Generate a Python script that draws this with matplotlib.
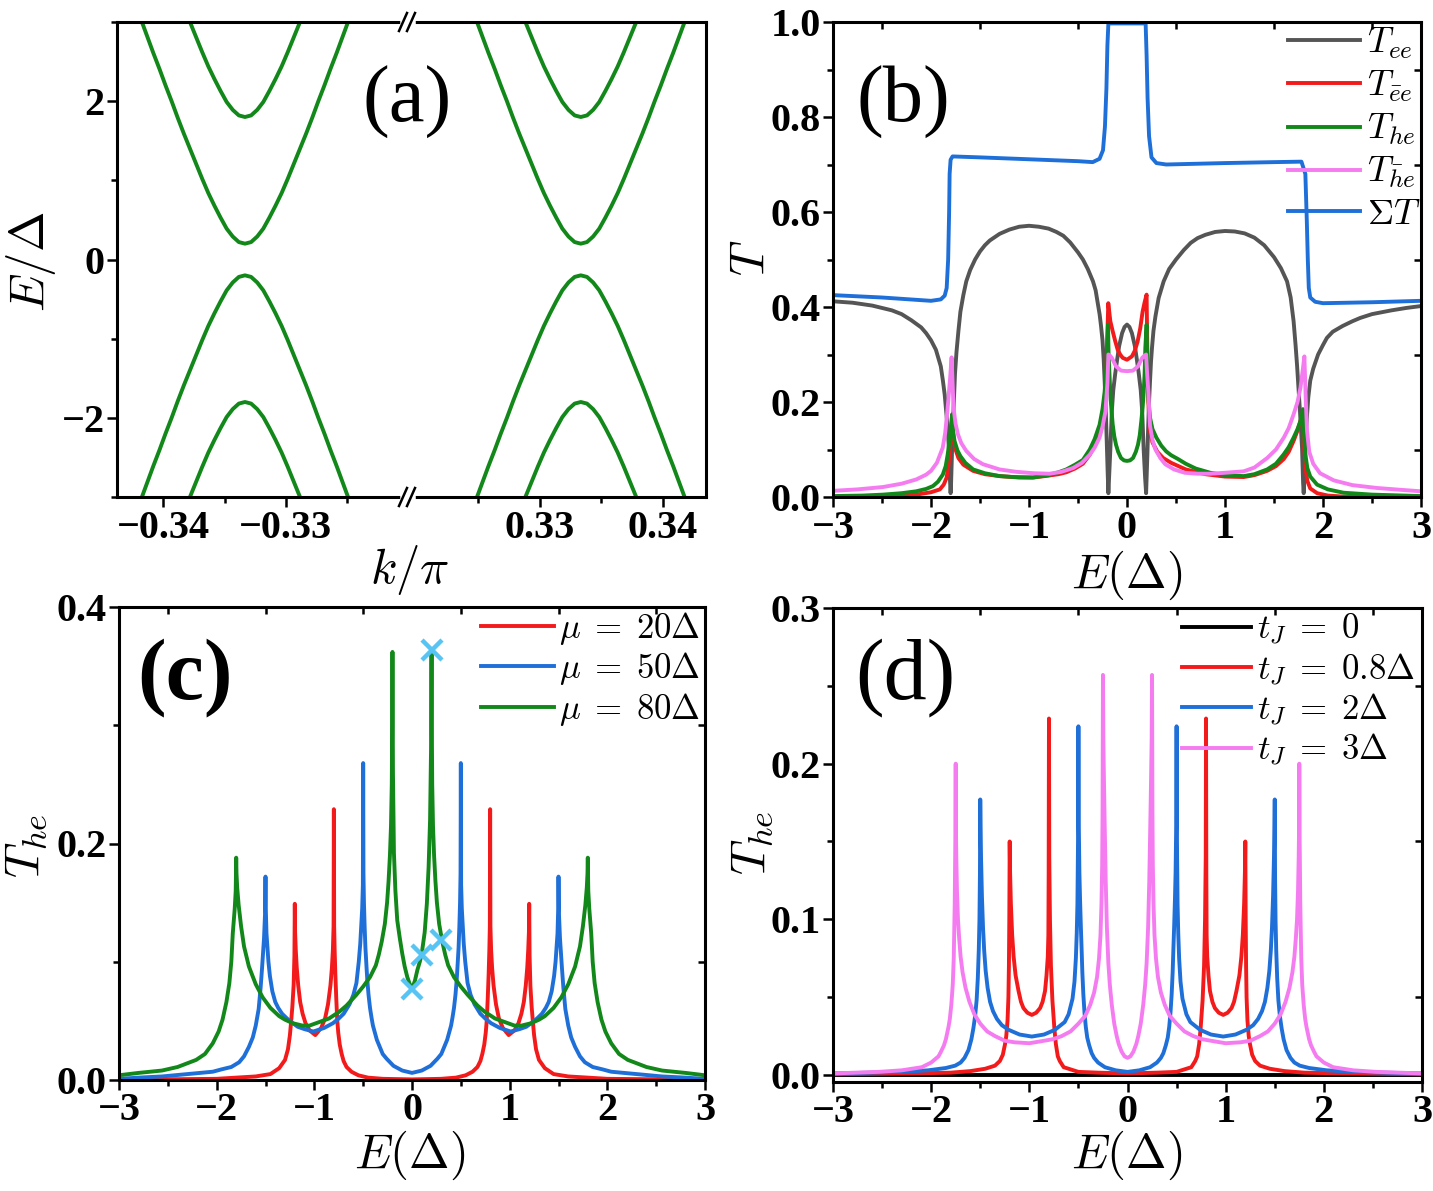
import numpy as np
import matplotlib
matplotlib.use("Agg")
import matplotlib.pyplot as plt
from matplotlib.lines import Line2D
from matplotlib.ticker import FixedLocator, FuncFormatter

plt.rcParams["font.family"] = "Liberation Serif"
plt.rcParams["font.weight"] = "bold"
plt.rcParams["mathtext.fontset"] = "cm"

# ---------------- panel (a): bands near k = -1/3 and k = +1/3 ----------------
valley_k = [-1 / 3, 1 / 3]
dk_inner = [0.0, 0.0005, 0.001, 0.0015, 0.002, 0.0025, 0.003, 0.0035, 0.004, 0.0045,
            0.005, 0.0055, 0.006, 0.0065, 0.007, 0.0075, 0.008, 0.0085, 0.009]
E_inner = [0.20, 0.22, 0.29, 0.39, 0.53, 0.68, 0.84, 1.02, 1.21, 1.40,
           1.59, 1.79, 2.00, 2.20, 2.41, 2.61, 2.82, 3.03, 3.24]
dk_outer = [0.0, 0.0005, 0.001, 0.0015, 0.002, 0.0025, 0.003, 0.0035, 0.004, 0.0045, 0.005]
E_outer = [1.80, 1.82, 1.89, 1.99, 2.13, 2.28, 2.44, 2.62, 2.81, 3.00, 3.19]

# ---------------- panel (b): transmission coefficients ----------------
E_sum = [-3.0, -2.5, -2.0, -1.9, -1.86, -1.84, -1.825, -1.815, -1.81, -1.8, -1.78, -1.5, -1.0,
         -0.5, -0.35, -0.28, -0.245, -0.225, -0.21, -0.2, -0.19, 0.19, 0.2, 0.21, 0.225, 0.25,
         0.3, 0.4, 1.0, 1.5, 1.78, 1.82, 1.835, 1.845, 1.855, 1.87, 1.92, 2.0, 2.5, 3.0]
T_sum = [0.425, 0.42, 0.413, 0.416, 0.424, 0.44, 0.5, 0.6, 0.68, 0.71, 0.717, 0.715, 0.711,
         0.707, 0.705, 0.712, 0.73, 0.78, 0.86, 0.95, 0.997, 0.997, 0.93, 0.84, 0.76, 0.715,
         0.703, 0.7, 0.703, 0.705, 0.706, 0.68, 0.58, 0.5, 0.44, 0.42, 0.411, 0.408, 0.41, 0.413]

E_ee = [-3.0, -2.8, -2.6, -2.4, -2.3, -2.2, -2.1, -2.05, -2.0, -1.95, -1.9, -1.878, -1.86,
        -1.845, -1.827, -1.815, -1.806, -1.8, -1.795, -1.785, -1.77, -1.755, -1.74, -1.72,
        -1.7, -1.67, -1.64, -1.6, -1.55, -1.5, -1.45, -1.4, -1.3, -1.2, -1.1, -1.0, -0.9,
        -0.8, -0.72, -0.65, -0.58, -0.5, -0.45, -0.4, -0.347, -0.32, -0.3, -0.279, -0.265,
        -0.25, -0.238, -0.228, -0.218, -0.21, -0.197, -0.19, -0.183, -0.17, -0.155, -0.14,
        -0.12, -0.1, -0.08, -0.05, -0.025, 0.0, 0.025, 0.05, 0.08, 0.1, 0.12, 0.14, 0.155,
        0.17, 0.185, 0.195, 0.2, 0.208, 0.215, 0.225, 0.235, 0.245, 0.255, 0.27, 0.29, 0.323,
        0.374, 0.43, 0.5, 0.58, 0.65, 0.72, 0.8, 0.9, 1.0, 1.1, 1.2, 1.3, 1.4, 1.5, 1.57,
        1.633, 1.67, 1.7, 1.72, 1.735, 1.765, 1.786, 1.797, 1.803, 1.81, 1.82, 1.83, 1.85,
        1.87, 1.9, 1.95, 2.0, 2.04, 2.1, 2.2, 2.3, 2.38, 2.5, 2.7, 2.85, 3.0]
T_ee = [0.412, 0.409, 0.403, 0.393, 0.385, 0.372, 0.357, 0.345, 0.33, 0.31, 0.275, 0.244,
        0.215, 0.18, 0.139, 0.09, 0.035, 0.008, 0.03, 0.1, 0.185, 0.26, 0.305, 0.35,
        0.39, 0.425, 0.454, 0.478, 0.5, 0.517, 0.53, 0.54, 0.554, 0.563, 0.569, 0.571, 0.569,
        0.565, 0.558, 0.55, 0.536, 0.515, 0.5, 0.48, 0.454, 0.435, 0.41, 0.384, 0.36,
        0.33, 0.29, 0.244, 0.19, 0.14, 0.05, 0.008, 0.04, 0.1, 0.18, 0.225,
        0.26, 0.29, 0.318, 0.345, 0.358, 0.363, 0.358, 0.345, 0.318, 0.29, 0.26, 0.225, 0.18,
        0.1, 0.04, 0.008, 0.04, 0.09, 0.14, 0.2, 0.244, 0.285, 0.314, 0.35, 0.38, 0.419,
        0.454, 0.48, 0.5, 0.52, 0.535, 0.545, 0.552, 0.558, 0.56, 0.559, 0.555, 0.546, 0.53,
        0.505, 0.482, 0.454, 0.42, 0.37, 0.32, 0.278, 0.18, 0.104, 0.03, 0.008, 0.04, 0.1,
        0.15, 0.21, 0.245, 0.27, 0.3, 0.32, 0.335, 0.348, 0.36, 0.37, 0.377, 0.385, 0.393,
        0.398, 0.402]

E_eebar = [-3.0, -2.5, -2.3, -2.15, -2.0, -1.91, -1.87, -1.84, -1.82, -1.8, -1.785, -1.77,
           -1.75, -1.72, -1.67, -1.57, -1.45, -1.3, -1.1, -0.96, -0.8, -0.7, -0.62, -0.53,
           -0.45, -0.38, -0.33, -0.28, -0.25, -0.228, -0.215, -0.204, -0.191, -0.17, -0.146,
           -0.12, -0.095, -0.07, -0.044, 0.0, 0.05, 0.08, 0.108, 0.135, 0.159, 0.18, 0.2,
           0.208, 0.218, 0.235, 0.26, 0.31, 0.37, 0.45, 0.6, 0.8, 1.0, 1.19, 1.3, 1.43, 1.52,
           1.6, 1.65, 1.7, 1.74, 1.77, 1.795, 1.81, 1.825, 1.84, 1.87, 1.94, 2.05, 2.2, 3.0]
T_eebar = [0.0, 0.001, 0.003, 0.005, 0.01, 0.016, 0.026, 0.041, 0.07, 0.12, 0.165, 0.12,
           0.1, 0.082, 0.068, 0.055, 0.048, 0.044, 0.041, 0.041, 0.045, 0.048, 0.052, 0.06,
           0.07, 0.089, 0.108, 0.132, 0.158, 0.188, 0.24, 0.314, 0.408, 0.37, 0.349,
           0.328, 0.31, 0.3, 0.293, 0.289, 0.296, 0.308, 0.327, 0.355, 0.39, 0.41, 0.426,
           0.3, 0.2, 0.139, 0.115, 0.095, 0.082, 0.072, 0.058, 0.048, 0.043, 0.042, 0.046,
           0.055, 0.065, 0.08, 0.095, 0.118, 0.14, 0.16, 0.174, 0.1, 0.055, 0.034, 0.018,
           0.008, 0.003, 0.001, 0.0]

E_he = [-3.0, -2.7, -2.49, -2.3, -2.15, -2.05, -1.98, -1.93, -1.88, -1.85, -1.83, -1.81,
        -1.8, -1.785, -1.775, -1.76, -1.73, -1.7, -1.65, -1.57, -1.45, -1.3, -1.15, -0.96,
        -0.8, -0.7, -0.62, -0.53, -0.45, -0.38, -0.33, -0.28, -0.25, -0.228, -0.215, -0.205,
        -0.194, -0.188, -0.175, -0.165, -0.146, -0.13, -0.112, -0.09, -0.061, -0.03, 0.0,
        0.03, 0.061, 0.09, 0.112, 0.13, 0.146, 0.16, 0.17, 0.18, 0.187, 0.2, 0.207, 0.215,
        0.225, 0.235, 0.26, 0.3, 0.35, 0.4, 0.45, 0.52, 0.6, 0.7, 0.85, 1.0, 1.19, 1.3,
        1.43, 1.52, 1.6, 1.65, 1.7, 1.74, 1.77, 1.796, 1.81, 1.82, 1.84, 1.87, 1.94, 2.05,
        2.21, 2.5, 3.0]
T_he = [0.002, 0.003, 0.005, 0.008, 0.012, 0.017, 0.023, 0.032, 0.047, 0.065, 0.089, 0.12,
        0.14, 0.174, 0.14, 0.118, 0.098, 0.086, 0.072, 0.058, 0.05, 0.044, 0.042, 0.041,
        0.046, 0.052, 0.058, 0.068, 0.078, 0.1, 0.122, 0.152, 0.185, 0.222, 0.26, 0.3,
        0.363, 0.3, 0.24, 0.2, 0.153, 0.128, 0.11, 0.095, 0.082, 0.077, 0.076,
        0.077, 0.082, 0.095, 0.11, 0.13, 0.16, 0.19, 0.22, 0.26, 0.314, 0.363, 0.28, 0.22,
        0.19, 0.167, 0.143, 0.125, 0.108, 0.096, 0.088, 0.08, 0.07, 0.06, 0.051, 0.046,
        0.044, 0.048, 0.058, 0.07, 0.09, 0.105, 0.125, 0.143, 0.16, 0.185, 0.12, 0.09,
        0.061, 0.043, 0.026, 0.016, 0.009, 0.005, 0.002]

E_hbar = [-3.0, -2.75, -2.49, -2.3, -2.15, -2.05, -2.0, -1.94, -1.88, -1.855, -1.83, -1.805,
          -1.79, -1.78, -1.77, -1.75, -1.725, -1.69, -1.64, -1.56, -1.47, -1.3, -1.13, -0.95,
          -0.79, -0.67, -0.55, -0.46, -0.38, -0.33, -0.28, -0.25, -0.22, -0.2, -0.19,
          -0.175, -0.155, -0.112, -0.06, 0.0, 0.06, 0.112, 0.155, 0.18, 0.195, 0.205, 0.218,
          0.235, 0.26, 0.29, 0.34, 0.39, 0.48, 0.59, 0.72, 0.85, 1.0, 1.19, 1.3, 1.43, 1.52,
          1.6, 1.65, 1.7, 1.74, 1.77, 1.795, 1.81, 1.825, 1.837, 1.86, 1.9, 1.97, 2.11, 2.3,
          2.55, 2.8, 3.0]
T_hbar = [0.013, 0.016, 0.021, 0.028, 0.037, 0.047, 0.055, 0.072, 0.104, 0.135, 0.188, 0.25,
          0.294, 0.24, 0.188, 0.155, 0.132, 0.113, 0.097, 0.08, 0.069, 0.058, 0.053, 0.05,
          0.049, 0.053, 0.061, 0.072, 0.089, 0.104, 0.125, 0.148, 0.18, 0.24, 0.3,
          0.298, 0.293, 0.275, 0.266, 0.265, 0.266, 0.275, 0.293, 0.298, 0.3, 0.26, 0.222,
          0.15, 0.12, 0.1, 0.082, 0.069, 0.058, 0.051, 0.049, 0.049, 0.051, 0.054, 0.062,
          0.082, 0.1, 0.125, 0.145, 0.174, 0.2, 0.23, 0.27, 0.296, 0.2, 0.139, 0.095, 0.07,
          0.05, 0.035, 0.025, 0.019, 0.015, 0.012]

# ---------------- panel (c): T_he for three mu ----------------
# red and blue are read for E >= 0 (curves are symmetric)
E_mu20 = [0.0, 0.3, 0.45, 0.55, 0.62, 0.67, 0.7, 0.72, 0.74, 0.755, 0.765, 0.775, 0.785,
          0.792, 0.797, 0.8, 0.803, 0.81, 0.82, 0.835, 0.86, 0.89, 0.93, 0.99, 1.05, 1.09,
          1.12, 1.145, 1.165, 1.18, 1.19, 1.197, 1.2, 1.204, 1.212, 1.225, 1.237, 1.25, 1.27,
          1.3, 1.36, 1.45, 1.6, 2.0, 3.0]
T_mu20 = [0.0005, 0.001, 0.002, 0.004, 0.007, 0.011, 0.016, 0.022, 0.03, 0.04, 0.05, 0.068,
          0.09, 0.11, 0.13, 0.229, 0.13, 0.11, 0.095, 0.08, 0.064, 0.052, 0.044, 0.038, 0.042,
          0.048, 0.056, 0.066, 0.08, 0.095, 0.11, 0.125, 0.149, 0.105, 0.08, 0.062, 0.05,
          0.038, 0.026, 0.017, 0.01, 0.005, 0.003, 0.001, 0.0002]
E_mu50 = [0.0, 0.1, 0.19, 0.26, 0.3, 0.33, 0.36, 0.38, 0.4, 0.415, 0.43, 0.445, 0.458,
          0.466, 0.477, 0.485, 0.492, 0.497, 0.5, 0.503, 0.51, 0.52, 0.53, 0.545, 0.569, 0.6,
          0.64, 0.7, 0.75, 0.81, 0.9, 1.01, 1.1, 1.17, 1.22, 1.28, 1.33, 1.37, 1.4, 1.43,
          1.455, 1.47, 1.48, 1.49, 1.497, 1.5, 1.505, 1.515, 1.527, 1.535, 1.55, 1.57, 1.6,
          1.63, 1.67, 1.72, 1.77, 1.85, 1.95, 2.04, 2.3, 2.56, 2.8, 3.0]
T_mu50 = [0.006, 0.008, 0.012, 0.018, 0.022, 0.028, 0.034, 0.04, 0.046, 0.053, 0.061, 0.072,
          0.085, 0.096, 0.112, 0.13, 0.15, 0.175, 0.268, 0.165, 0.145, 0.13, 0.115, 0.1,
          0.082, 0.072, 0.064, 0.056, 0.052, 0.048, 0.044, 0.041, 0.043, 0.045, 0.048, 0.052,
          0.056, 0.061, 0.066, 0.075, 0.088, 0.1, 0.112, 0.124, 0.145, 0.172, 0.14, 0.12,
          0.105, 0.095, 0.078, 0.06, 0.046, 0.036, 0.028, 0.02, 0.015, 0.011, 0.009, 0.007,
          0.005, 0.003, 0.002, 0.001]
# green: outer part read for E >= 0.2, inner part between the two central peaks
E_mu80_side = [0.2, 0.203, 0.207, 0.215, 0.226, 0.24, 0.255, 0.278, 0.31, 0.34, 0.37, 0.43,
               0.5, 0.57, 0.67, 0.74, 0.85, 0.95, 1.05, 1.12, 1.22, 1.3, 1.36, 1.45, 1.53,
               1.6, 1.67, 1.72, 1.75, 1.775, 1.79, 1.797, 1.8, 1.805, 1.815, 1.835, 1.85,
               1.87, 1.9, 1.94, 1.98, 2.04, 2.12, 2.21, 2.4, 2.56, 2.8, 3.0]
T_mu80_side = [0.362, 0.3, 0.25, 0.215, 0.19, 0.168, 0.15, 0.132, 0.117, 0.106, 0.097,
               0.087, 0.079, 0.072, 0.063, 0.058, 0.052, 0.049, 0.046, 0.046, 0.048, 0.051,
               0.054, 0.061, 0.07, 0.081, 0.096, 0.113, 0.13, 0.148, 0.163, 0.175, 0.188,
               0.16, 0.145, 0.124, 0.1, 0.082, 0.066, 0.051, 0.041, 0.031, 0.022, 0.017,
               0.011, 0.008, 0.006, 0.004]
E_mu80_mid = [-0.2, -0.195, -0.185, -0.17, -0.151, -0.125, -0.1, -0.075, -0.048, -0.014,
              0.0, 0.03, 0.055, 0.08, 0.1, 0.13, 0.152, 0.17, 0.185, 0.195, 0.2]
T_mu80_mid = [0.363, 0.26, 0.192, 0.16, 0.135, 0.12, 0.107, 0.096, 0.087, 0.079,
              0.077, 0.084, 0.093, 0.1, 0.107, 0.125, 0.149, 0.18, 0.22, 0.28, 0.362]
E_cross = [0.0, 0.1, 0.3, 0.2]
T_cross = [0.077, 0.106, 0.118, 0.364]

# ---------------- panel (d): T_he for several t_J (E >= 0, symmetric) ----------------
E_tj0 = [-3.0, 3.0]
T_tj0 = [0.0, 0.0]
E_tj08 = [0.0, 0.3, 0.5, 0.6, 0.65, 0.69, 0.71, 0.73, 0.745, 0.765, 0.78, 0.79, 0.797, 0.8,
          0.803, 0.806, 0.812, 0.825, 0.84, 0.865, 0.89, 0.93, 0.975, 1.02, 1.06, 1.085,
          1.11, 1.14, 1.16, 1.175, 1.188, 1.196, 1.2, 1.204, 1.208, 1.213, 1.222, 1.235,
          1.247, 1.27, 1.3, 1.35, 1.45, 1.6, 1.8, 2.2, 3.0]
T_tj08 = [0.001, 0.0015, 0.002, 0.004, 0.005, 0.009, 0.012, 0.02, 0.03, 0.048, 0.07, 0.1,
          0.14, 0.229, 0.13, 0.09, 0.076, 0.064, 0.054, 0.047, 0.043, 0.04, 0.0386, 0.04,
          0.043, 0.047, 0.054, 0.064, 0.076, 0.09, 0.11, 0.13, 0.15, 0.1, 0.07, 0.05, 0.035,
          0.025, 0.02, 0.013, 0.009, 0.006, 0.004, 0.0025, 0.0015, 0.001, 0.0005]
E_tj2 = [0.0, 0.12, 0.23, 0.3, 0.34, 0.365, 0.39, 0.41, 0.425, 0.438, 0.45, 0.46, 0.467,
         0.475, 0.483, 0.49, 0.496, 0.5, 0.504, 0.51, 0.517, 0.526, 0.54, 0.56, 0.6, 0.64,
         0.7, 0.74, 0.85, 0.975, 1.1, 1.21, 1.28, 1.33, 1.37, 1.4, 1.425, 1.445, 1.46, 1.472,
         1.483, 1.492, 1.497, 1.5, 1.503, 1.508, 1.515, 1.525, 1.537, 1.552, 1.57, 1.59,
         1.62, 1.66, 1.7, 1.755, 1.85, 2.03, 2.3, 2.6, 3.0]
T_tj2 = [0.002, 0.003, 0.005, 0.008, 0.011, 0.014, 0.019, 0.024, 0.031, 0.04, 0.052, 0.066,
         0.08, 0.095, 0.112, 0.13, 0.16, 0.224, 0.15, 0.11, 0.091, 0.075, 0.06, 0.049,
         0.039, 0.034, 0.031, 0.029, 0.026, 0.0247, 0.026, 0.029, 0.032, 0.036, 0.041, 0.047,
         0.056, 0.067, 0.08, 0.095, 0.115, 0.14, 0.16, 0.177, 0.13, 0.1, 0.08, 0.062, 0.048,
         0.038, 0.03, 0.023, 0.016, 0.011, 0.008, 0.006, 0.0045, 0.003, 0.002, 0.0015, 0.001]
E_tj3 = [0.0, 0.03, 0.06, 0.09, 0.11, 0.135, 0.16, 0.18, 0.195, 0.21, 0.222, 0.232, 0.24,
         0.246, 0.25, 0.254, 0.258, 0.265, 0.275, 0.29, 0.31, 0.34, 0.38, 0.43, 0.5, 0.58,
         0.67, 0.76, 0.85, 1.0, 1.15, 1.25, 1.35, 1.43, 1.5, 1.56, 1.61, 1.65, 1.68, 1.7,
         1.715, 1.727, 1.737, 1.744, 1.748, 1.75, 1.754, 1.76, 1.77, 1.78, 1.795, 1.81,
         1.823, 1.85, 1.87, 1.9, 1.925, 2.0, 2.095, 2.3, 2.535, 3.0]
T_tj3 = [0.011, 0.012, 0.015, 0.02, 0.025, 0.033, 0.045, 0.058, 0.072, 0.095, 0.125, 0.16,
         0.19, 0.215, 0.257, 0.17, 0.135, 0.11, 0.09, 0.075, 0.063, 0.053, 0.045, 0.038,
         0.033, 0.028, 0.025, 0.023, 0.022, 0.0204, 0.021, 0.022, 0.025, 0.028, 0.033, 0.039,
         0.047, 0.056, 0.066, 0.076, 0.088, 0.1, 0.118, 0.14, 0.16, 0.2, 0.15, 0.11, 0.075,
         0.058, 0.045, 0.036, 0.031, 0.023, 0.019, 0.015, 0.012, 0.008, 0.005, 0.003, 0.002,
         0.001]

GREEN = "#13881a"
RED = "#f21a1a"
BLUE = "#1f6fd8"
GRAY = "#555555"
PINK = "#f47cf0"
CROSS = "#58c4f4"
LW = 2.8
TICK_FS = 29
LAB_FS = 35

W, H = 1433, 1191
fig = plt.figure(figsize=(W / 100, H / 100), dpi=100)


def rect(l, t, r, b):
    return [l / W, 1 - b / H, (r - l) / W, (b - t) / H]


def text_px(x, y, s, size, rot=0, **kw):
    fig.text(x / W, 1 - y / H, s, fontsize=size, rotation=rot, ha="center", va="center", **kw)


def mirror(e, t):
    e = np.asarray(e)
    t = np.asarray(t)
    return np.concatenate([-e[:0:-1], e]), np.concatenate([t[:0:-1], t])


def fmt(decimals):
    return FuncFormatter(lambda v, p: f"{v:.{decimals}f}".replace("-", "\u2212"))


def base_style(ax):
    for s in ax.spines.values():
        s.set_linewidth(2.2)
    ax.tick_params(which="major", direction="out", length=7, width=1.8,
                   labelsize=TICK_FS, pad=2)
    ax.tick_params(which="minor", direction="out", length=4, width=1.8)


def set_ticks(ax, xmaj, xmin, ymaj, ymin, xdec, ydec):
    ax.xaxis.set_major_locator(FixedLocator(xmaj))
    ax.xaxis.set_minor_locator(FixedLocator(xmin))
    ax.yaxis.set_major_locator(FixedLocator(ymaj))
    ax.yaxis.set_minor_locator(FixedLocator(ymin))
    ax.xaxis.set_major_formatter(fmt(xdec))
    ax.yaxis.set_major_formatter(fmt(ydec))


def mirror_minor(ax, xmin, ymin):
    top = ax.secondary_xaxis("top")
    top.xaxis.set_major_locator(FixedLocator([]))
    top.xaxis.set_minor_locator(FixedLocator(xmin))
    top.tick_params(which="minor", direction="in", length=5, width=1.8)
    right = ax.secondary_yaxis("right")
    right.yaxis.set_major_locator(FixedLocator([]))
    right.yaxis.set_minor_locator(FixedLocator(ymin))
    right.tick_params(which="minor", direction="in", length=5, width=1.8)


E_ticks = [-3, -2, -1, 0, 1, 2, 3]
E_minor = [-2.5, -1.5, -0.5, 0.5, 1.5, 2.5]

# ---------- (a) ----------
dk_in_full, E_in_full = mirror(dk_inner, E_inner)
dk_out_full, E_out_full = mirror(dk_outer, E_outer)
axL = fig.add_axes(rect(117, 22, 408, 497))
axR = fig.add_axes(rect(408, 22, 706, 497))
xlims = [(-0.3438, -0.3200), (0.3193, 0.3435)]
xmaj = [[-0.34, -0.33], [0.33, 0.34]]
xmin = [[-0.335, -0.325], [0.325, 0.335]]
for ax, k0, lim, mj, mn in zip((axL, axR), valley_k, xlims, xmaj, xmin):
    for sign in (1, -1):
        ax.plot(k0 + dk_in_full, sign * E_in_full, color=GREEN, lw=LW)
        ax.plot(k0 + dk_out_full, sign * E_out_full, color=GREEN, lw=LW)
    ax.set_xlim(*lim)
    ax.set_ylim(-3, 3)
    base_style(ax)
    set_ticks(ax, mj, mn, [-2, 0, 2], [-3, -1, 1, 3], 2, 0)
axL.spines["right"].set_visible(False)
axR.spines["left"].set_visible(False)
axR.tick_params(axis="y", which="both", left=False, labelleft=False)

# axis-break marks
for yb in (22, 497):
    fig.add_artist(Line2D([403 / W, 413 / W], [1 - yb / H] * 2, color="white", lw=4,
                          transform=fig.transFigure))
    for x0 in (399, 407):
        fig.add_artist(Line2D([x0 / W, (x0 + 8) / W], [1 - (yb + 9) / H, 1 - (yb - 9) / H],
                              color="black", lw=1.8, transform=fig.transFigure))
text_px(31, 262, r"$E/\Delta$", LAB_FS, rot=90)
text_px(410, 570, r"$k/\pi$", LAB_FS)
text_px(407, 102, "(a)", 58, fontweight="normal")

# ---------- (b) ----------
axb = fig.add_axes(rect(833, 22, 1421, 497))
axb.plot(E_ee, T_ee, color=GRAY, lw=LW, label=r"$T_{ee}$")
axb.plot(E_eebar, T_eebar, color=RED, lw=LW, label=r"$T_{\bar{e}e}$")
axb.plot(E_he, T_he, color=GREEN, lw=LW, label=r"$T_{he}$")
axb.plot(E_hbar, T_hbar, color=PINK, lw=LW, label=r"$T_{\bar{h}e}$")
axb.plot(E_sum, T_sum, color=BLUE, lw=LW, label=r"$\Sigma T$")
axb.set_xlim(-3, 3)
axb.set_ylim(0, 1)
base_style(axb)
set_ticks(axb, E_ticks, E_minor, [0, 0.2, 0.4, 0.6, 0.8, 1.0],
          [0.1, 0.3, 0.5, 0.7, 0.9], 0, 1)
mirror_minor(axb, E_minor, [0.1, 0.3, 0.5, 0.7, 0.9])
axb.legend(loc="upper right", bbox_to_anchor=(1421 / W, 1 - 26 / H),
           bbox_transform=fig.transFigure, frameon=False, fontsize=26,
           handlelength=2.0, handletextpad=0.2, labelspacing=0.22,
           borderaxespad=0, borderpad=0)
text_px(752, 258, r"$T$", LAB_FS, rot=90)
text_px(1127, 575, r"$E(\Delta)$", LAB_FS)
text_px(903, 102, "(b)", 58, fontweight="normal")

# ---------- (c) ----------
axc = fig.add_axes(rect(119, 607, 705, 1080))
e, t = mirror(E_mu20, T_mu20)
axc.plot(e, t, color=RED, lw=LW, label=r"$\mu\;=\;20\Delta$")
e, t = mirror(E_mu50, T_mu50)
axc.plot(e, t, color=BLUE, lw=LW, label=r"$\mu\;=\;50\Delta$")
e80 = np.concatenate([-np.asarray(E_mu80_side)[::-1], E_mu80_mid[1:-1], E_mu80_side])
t80 = np.concatenate([np.asarray(T_mu80_side)[::-1], T_mu80_mid[1:-1], T_mu80_side])
axc.plot(e80, t80, color=GREEN, lw=LW, label=r"$\mu\;=\;80\Delta$")
axc.plot(E_cross, T_cross, ls="none", marker="x", ms=15, mew=3.2, color=CROSS)
axc.set_xlim(-3, 3)
axc.set_ylim(0, 0.4)
base_style(axc)
set_ticks(axc, E_ticks, E_minor, [0, 0.2, 0.4], [0.1, 0.3], 0, 1)
mirror_minor(axc, E_minor, [0.1, 0.3])
axc.legend(loc="upper right", bbox_to_anchor=(700 / W, 1 - 610 / H),
           bbox_transform=fig.transFigure, frameon=False, fontsize=25,
           handlelength=2.1, handletextpad=0.15, labelspacing=0.1,
           borderaxespad=0, borderpad=0)
text_px(26, 846, r"$T_{he}$", LAB_FS, rot=90)
text_px(410, 1155, r"$E(\Delta)$", LAB_FS)
text_px(185, 678, "(c)", 62, fontweight="bold")

# ---------- (d) ----------
axd = fig.add_axes(rect(833, 608, 1422, 1082))
axd.plot(E_tj0, T_tj0, color="black", lw=LW, label=r"$t_J\;=\;0$")
e, t = mirror(E_tj08, T_tj08)
axd.plot(e, t, color=RED, lw=LW, label=r"$t_J\;=\;0.8\Delta$")
e, t = mirror(E_tj2, T_tj2)
axd.plot(e, t, color=BLUE, lw=LW, label=r"$t_J\;=\;2\Delta$")
e, t = mirror(E_tj3, T_tj3)
axd.plot(e, t, color=PINK, lw=LW, label=r"$t_J\;=\;3\Delta$")
axd.set_xlim(-3, 3)
axd.set_ylim(-0.0045, 0.3)
base_style(axd)
set_ticks(axd, E_ticks, E_minor, [0, 0.1, 0.2, 0.3], [0.05, 0.15, 0.25], 0, 1)
mirror_minor(axd, E_minor, [0.05, 0.15, 0.25])
axd.legend(loc="upper left", bbox_to_anchor=(1182 / W, 1 - 612 / H),
           bbox_transform=fig.transFigure, frameon=False, fontsize=25,
           handlelength=2.0, handletextpad=0.15, labelspacing=0.12,
           borderaxespad=0, borderpad=0)
text_px(752, 843, r"$T_{he}$", LAB_FS, rot=90)
text_px(1127, 1155, r"$E(\Delta)$", LAB_FS)
text_px(905, 678, "(d)", 62, fontweight="normal")

fig.savefig("out.png", dpi=100)
